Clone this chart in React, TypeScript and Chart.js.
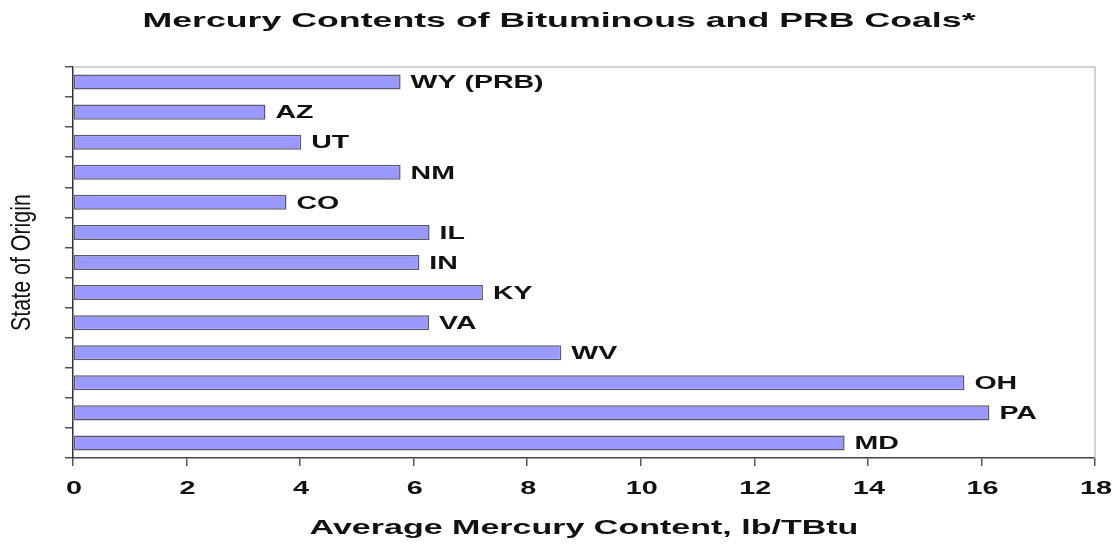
import React, { useEffect, useRef } from "react";
import { Chart, registerables } from "chart.js";

Chart.register(...registerables);

const states = ["WY (PRB)", "AZ", "UT", "NM", "CO", "IL", "IN", "KY", "VA", "WV", "OH", "PA", "MD"];
const mercury = [5.77, 3.39, 4.02, 5.77, 3.76, 6.28, 6.1, 7.22, 6.27, 8.6, 15.7, 16.14, 13.59];
const xTickValues = [0, 2, 4, 6, 8, 10, 12, 14, 16, 18];

const titleText = "Mercury Contents of Bituminous and PRB Coals*";
const xTitleText = "Average Mercury Content, lb/TBtu";
const yTitleText = "State of Origin";

const FONT = "'Liberation Sans', Arial, sans-serif";

function stretchedText(ctx: CanvasRenderingContext2D, text: string, x: number, y: number, sx: number, align: CanvasTextAlign) {
  ctx.save();
  ctx.translate(x, y);
  ctx.scale(sx, 1);
  ctx.textAlign = align;
  ctx.textBaseline = "middle";
  ctx.fillText(text, 0, 0);
  ctx.restore();
}

const textPlugin = {
  id: "textPlugin",
  beforeDatasetsDraw(chart: any) {
    const { ctx, chartArea } = chart;
    ctx.save();
    ctx.strokeStyle = "#c4c4c4";
    ctx.lineWidth = 1.5;
    ctx.beginPath();
    ctx.moveTo(chartArea.left, chartArea.top);
    ctx.lineTo(chartArea.right, chartArea.top);
    ctx.lineTo(chartArea.right, chartArea.bottom);
    ctx.stroke();
    ctx.restore();
  },
  afterDraw(chart: any) {
    const { ctx, chartArea, scales } = chart;
    ctx.save();
    ctx.fillStyle = "#111";
    // bar labels
    ctx.font = `bold 19px ${FONT}`;
    const meta = chart.getDatasetMeta(0);
    meta.data.forEach((el: any, i: number) => {
      stretchedText(ctx, states[i], el.x + 10, el.y + 1, 1.5, "left");
    });
    // x tick labels
    ctx.font = `bold 18px ${FONT}`;
    const xs = scales.x;
    xTickValues.forEach((v) => {
      stretchedText(ctx, String(v), xs.getPixelForValue(v) + 1, 489, 1.6, "center");
    });
    // x title
    ctx.font = `bold 21px ${FONT}`;
    stretchedText(ctx, xTitleText, (chartArea.left + chartArea.right) / 2, 528, 1.62, "center");
    // title
    ctx.font = `bold 21px ${FONT}`;
    stretchedText(ctx, titleText, 559, 21, 1.7, "center");
    // y title
    ctx.font = `21px ${FONT}`;
    ctx.save();
    ctx.translate(22, (chartArea.top + chartArea.bottom) / 2);
    ctx.rotate(-Math.PI / 2);
    ctx.scale(1.02, 1.3);
    ctx.textAlign = "center";
    ctx.textBaseline = "middle";
    ctx.fillText(yTitleText, 0, 0);
    ctx.restore();
    ctx.restore();
  },
};

export default function App() {
  const ref = useRef<HTMLCanvasElement>(null);
  useEffect(() => {
    const chart = new Chart(ref.current as HTMLCanvasElement, {
      type: "bar",
      data: {
        labels: states,
        datasets: [
          {
            data: mercury,
            backgroundColor: "#9999ff",
            borderColor: "#5a5a6a",
            borderWidth: 1.5,
            borderSkipped: false,
            categoryPercentage: 1,
            barPercentage: 0.5,
          },
        ],
      },
      options: {
        responsive: false,
        animation: false,
        indexAxis: "y",
        layout: { padding: { left: 0, top: 67, right: 19, bottom: 0 } },
        plugins: { legend: { display: false }, title: { display: false }, tooltip: { enabled: false } },
        scales: {
          x: {
            type: "linear",
            min: 0,
            max: 18,
            ticks: { display: false, stepSize: 2 },
            grid: { display: true, drawOnChartArea: false, drawTicks: true, tickLength: 8, color: "#555", lineWidth: 1.5 },
            border: { display: true, color: "#444", width: 1.5 },
            afterFit: (s: any) => {
              s.height = 86;
            },
          },
          y: {
            type: "category",
            ticks: { display: false },
            grid: { display: true, offset: true, drawOnChartArea: false, drawTicks: true, tickLength: 8, color: "#555", lineWidth: 1.5 },
            border: { display: true, color: "#333", width: 1.5 },
            afterFit: (s: any) => {
              s.width = 73;
            },
          },
        },
      },
      plugins: [textPlugin],
    } as any);
    return () => chart.destroy();
  }, []);
  return (
    <div style={{ position: "absolute", left: 0, top: 0, width: 1114, height: 544, background: "#fff" }}>
      <canvas ref={ref} width={1114} height={544} />
    </div>
  );
}
